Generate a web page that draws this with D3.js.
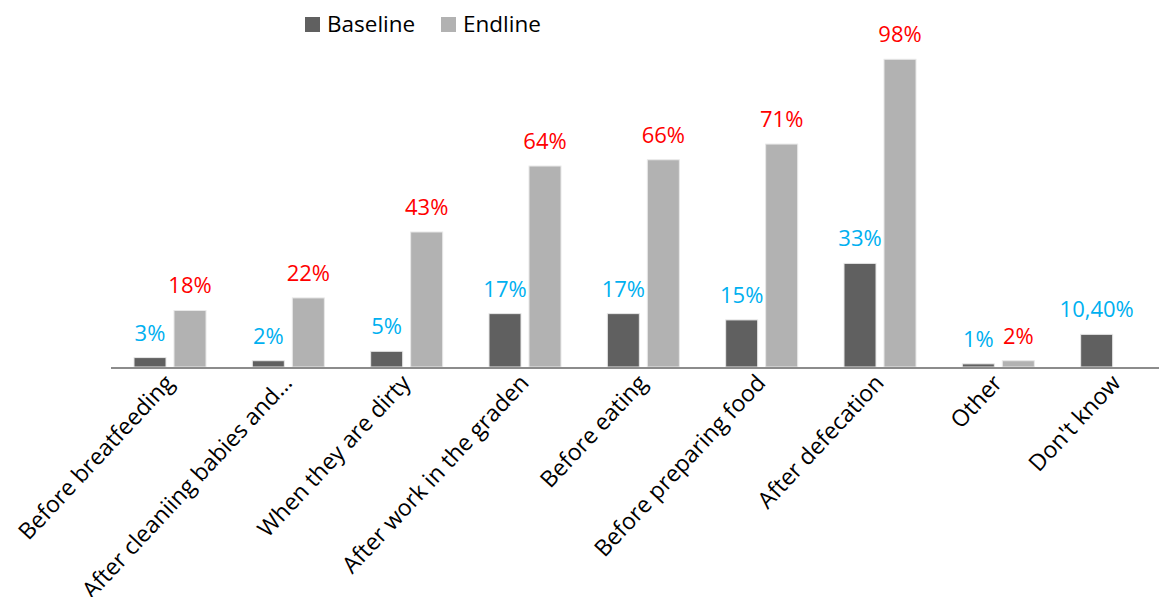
<!DOCTYPE html>
<html>
<head>
<meta charset="utf-8">
<script src="https://cdn.jsdelivr.net/npm/d3@7"></script>
<style>
  body { margin: 0; background: #fff; }
  text { font-family: "Open Sans", Lato, sans-serif; }
</style>
</head>
<body>
<script>
var categories = ["Before breatfeeding", "After cleaniing babies and…", "When they are dirty",
  "After work in the graden", "Before eating", "Before preparing food", "After defecation",
  "Other", "Don't know"];
var baseline = [3, 2, 5, 17, 17, 15, 33, 1, 10.4];
var endline = [18, 22, 43, 64, 66, 71, 98, 2, null];
var baselineLabels = ["3%", "2%", "5%", "17%", "17%", "15%", "33%", "1%", "10,40%"];
var endlineLabels = ["18%", "22%", "43%", "64%", "66%", "71%", "98%", "2%", ""];
var series = ["Baseline", "Endline"];

var width = 1159, height = 597;
var colors = {Baseline: "#606060", Endline: "#b2b2b2"};
var labelColors = {Baseline: "#00b0f0", Endline: "#ff0000"};

var svg = d3.select("body").append("svg")
  .attr("width", width)
  .attr("height", height);

var x = d3.scaleBand()
  .domain(categories)
  .range([111, 1176]);

var inner = d3.scaleBand()
  .domain(series)
  .range([23, 95])
  .paddingInner(0.2);

var y = d3.scaleLinear()
  .domain([0, 100])
  .range([367, 53]);

var rows = categories.map(function(c, i) {
  return [
    {cat: c, key: "Baseline", value: baseline[i], label: baselineLabels[i]},
    {cat: c, key: "Endline", value: endline[i], label: endlineLabels[i]}
  ].filter(function(d) { return d.value != null; });
});

var group = svg.append("g").selectAll(".group")
  .data(rows)
  .enter()
  .append("g")
  .attr("transform", function(d, i) { return "translate(" + x(categories[i]) + ",0)"; });

group.selectAll("rect")
  .data(function(d) { return d; })
  .enter()
  .append("rect")
  .attr("x", function(d) { return inner(d.key); })
  .attr("width", inner.bandwidth())
  .attr("y", function(d) { return y(d.value); })
  .attr("height", function(d) { return y(0) - y(d.value); })
  .attr("fill", function(d) { return colors[d.key]; })
  .attr("stroke", "#e8e8e8")
  .attr("stroke-width", 1);

group.selectAll(".val")
  .data(function(d) { return d; })
  .enter()
  .append("text")
  .attr("class", "val")
  .attr("x", function(d) { return inner(d.key) + inner.bandwidth() / 2; })
  .attr("y", function(d) { return y(d.value) - 17; })
  .attr("text-anchor", "middle")
  .attr("font-size", 22)
  .attr("fill", function(d) { return labelColors[d.key]; })
  .text(function(d) { return d.label; });

// x axis line
svg.append("line")
  .attr("x1", 111).attr("x2", width)
  .attr("y1", y(0) + 1).attr("y2", y(0) + 1)
  .attr("stroke", "#8c8c8c")
  .attr("stroke-width", 2);

// category labels
svg.append("g").selectAll(".cat")
  .data(categories)
  .enter()
  .append("text")
  .attr("class", "cat")
  .attr("text-anchor", "end")
  .attr("font-size", 23)
  .attr("fill", "#000")
  .attr("transform", function(d) {
    var cx = x(d) + x.bandwidth() / 2 + 5;
    return "translate(" + cx + ",384)rotate(-47)";
  })
  .text(function(d) { return d; });

// legend
var legend = svg.append("g").selectAll(".legend")
  .data(series)
  .enter()
  .append("g")
  .attr("transform", function(d, i) { return "translate(" + (305 + i * 136) + ",17)"; });

legend.append("rect")
  .attr("width", 15)
  .attr("height", 15)
  .attr("fill", function(d) { return colors[d]; });

legend.append("text")
  .attr("x", 22)
  .attr("y", 15)
  .attr("font-size", 22.5)
  .attr("fill", "#000")
  .text(function(d) { return d; });
</script>
</body>
</html>
